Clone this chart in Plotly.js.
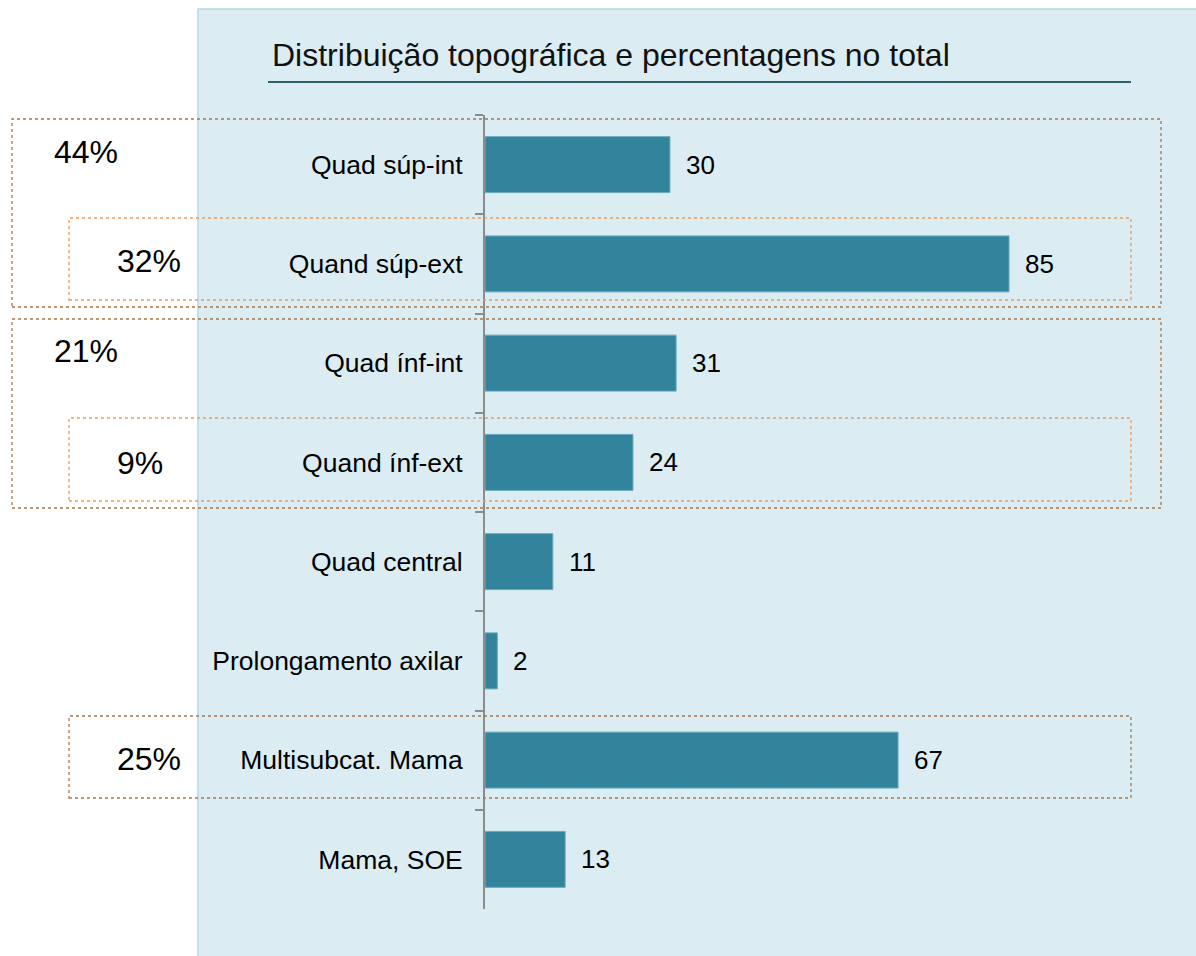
<!DOCTYPE html>
<html>
<head>
<meta charset="utf-8">
<script src="https://cdn.plot.ly/plotly-3.0.1.min.js"></script>
<style>html,body{margin:0;padding:0;background:#fff;}#chart{width:1196px;height:956px;}</style>
</head>
<body>
<div id="chart"></div>
<script>
// ---- data ----
const categories = ['Quad súp-int', 'Quand súp-ext', 'Quad ínf-int', 'Quand ínf-ext', 'Quad central', 'Prolongamento axilar', 'Multisubcat. Mama', 'Mama, SOE'];
const counts = [30, 85, 31, 24, 11, 2, 67, 13];
const groupLabels = ['44%', '32%', '21%', '9%', '25%'];
const titleText = 'Distribuição topográfica e percentagens no total';

// ---- layout helpers (pixel -> paper, margins are zero) ----
const W = 1196, H = 956;
const px = x => x / W;
const py = y => 1 - y / H;

const barColor = '#31849b';
const font = 'Liberation Sans, Arial, sans-serif';

const trace = {
  type: 'bar',
  orientation: 'h',
  x: counts,
  y: categories,
  marker: {color: barColor, line: {color: '#6aaabd', width: 1}},
  hoverinfo: 'skip',
  cliponaxis: false
};

const valueAnnotations = counts.map((v, i) => ({
  x: v, y: categories[i], xref: 'x', yref: 'y',
  text: String(v), showarrow: false, xanchor: 'left', yanchor: 'middle',
  xshift: 14, font: {family: font, size: 26, color: '#000'}
}));

const groupPos = [
  {x: 52, y: 152}, {x: 115, y: 261}, {x: 52, y: 351}, {x: 115, y: 463}, {x: 115, y: 759}
];
const groupAnnotations = groupLabels.map((t, i) => ({
  x: px(groupPos[i].x), y: py(groupPos[i].y), xref: 'paper', yref: 'paper',
  text: t, showarrow: false, xanchor: 'left', yanchor: 'middle',
  font: {family: font, size: 32, color: '#000'}
}));

const outerC = '#a8784a', innerC = '#ee9a58';
function box(x0, y0, x1, y1, c) {
  return {type: 'rect', xref: 'paper', yref: 'paper', x0: px(x0), x1: px(x1), y0: py(y1), y1: py(y0),
    line: {color: c, width: 1.3, dash: 'dot'}, fillcolor: 'rgba(0,0,0,0)', layer: 'above'};
}

const shapes = [
  {type: 'rect', xref: 'paper', yref: 'paper', x0: px(198), x1: px(1200), y0: py(960), y1: py(9),
   fillcolor: '#dbedf3', line: {color: '#b5d8e5', width: 1.5}, layer: 'below'},
  {type: 'line', xref: 'paper', yref: 'paper', x0: px(268), x1: px(1131), y0: py(82), y1: py(82),
   line: {color: '#2b6272', width: 2}},
  box(12, 119, 1161, 307, outerC),
  box(69, 218, 1131, 300, innerC),
  box(12, 319, 1161, 508, outerC),
  box(69, 418, 1131, 501, innerC),
  box(69, 716, 1131, 798, outerC)
];

const layout = {
  width: W, height: H,
  margin: {l: 0, r: 0, t: 0, b: 0, pad: 0},
  paper_bgcolor: '#ffffff',
  plot_bgcolor: 'rgba(0,0,0,0)',
  showlegend: false,
  bargap: 0.436,
  title: {text: titleText, xref: 'paper', yref: 'paper', x: px(272), xanchor: 'left', y: py(55), yanchor: 'middle',
    font: {family: font, size: 32, color: '#111'}},
  xaxis: {domain: [px(485), px(1101.5)], range: [0, 100], visible: false, fixedrange: true, automargin: false},
  yaxis: {domain: [py(909), py(115)], type: 'category', autorange: 'reversed',
    showline: true, linecolor: '#8c8c8c', linewidth: 2,
    ticks: 'outside', tickson: 'boundaries', ticklen: 8, tickwidth: 2, tickcolor: '#8c8c8c',
    showgrid: false, zeroline: false, automargin: false, ticklabelstandoff: 15,
    tickfont: {family: font, size: 26.5, color: '#000'}},
  shapes: shapes,
  annotations: valueAnnotations.concat(groupAnnotations)
};

Plotly.newPlot('chart', [trace], layout, {displayModeBar: false, staticPlot: true});
</script>
</body>
</html>
